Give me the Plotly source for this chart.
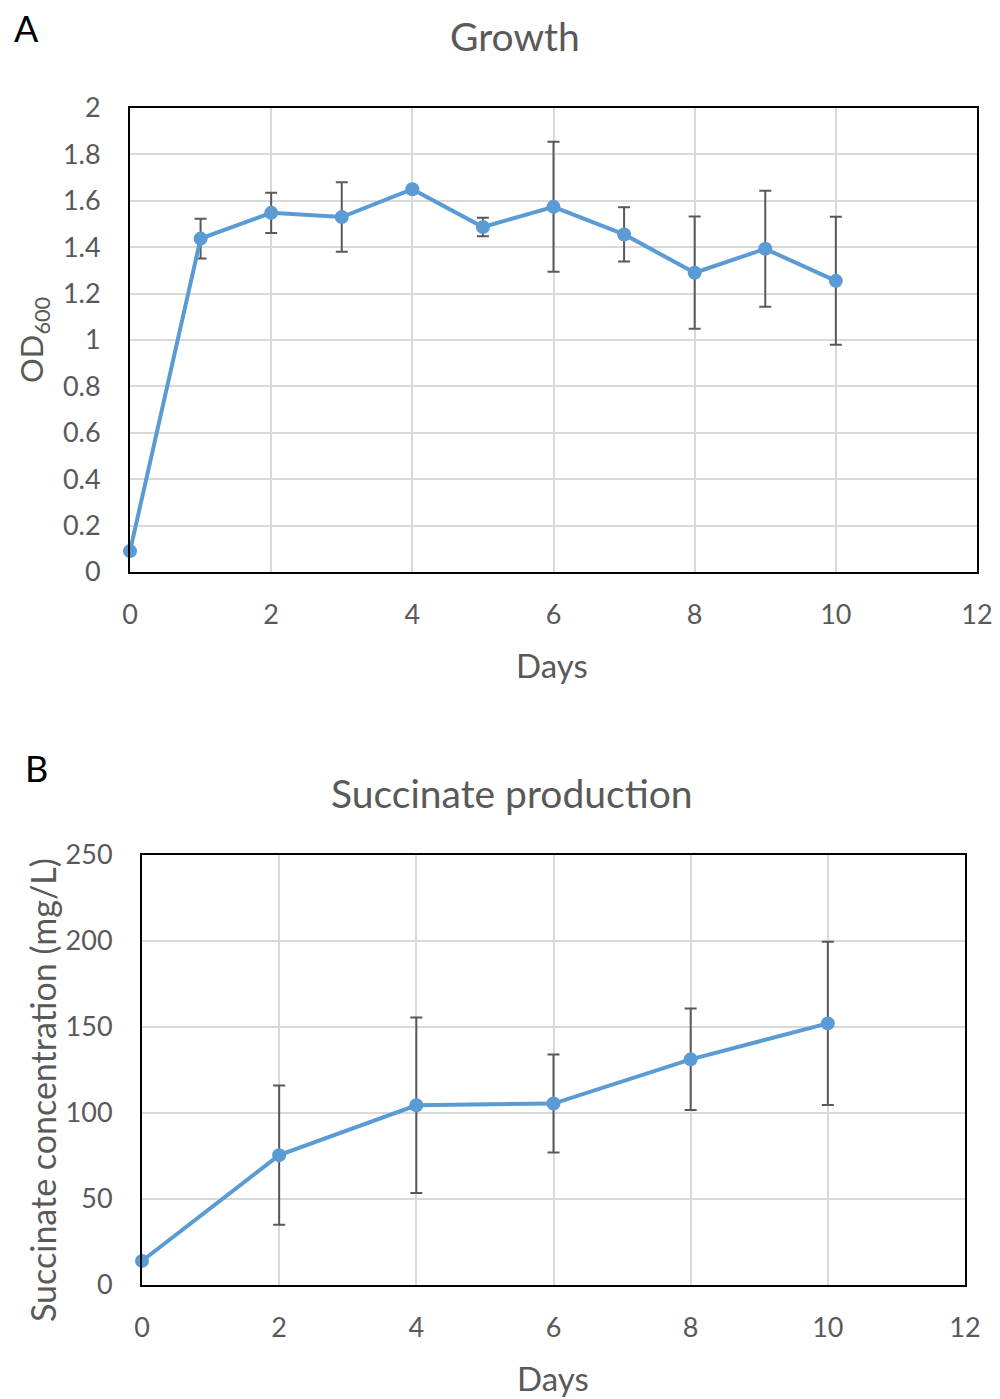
import plotly.graph_objects as go

# ---- Data: Growth (panel A) ----
growth_days = [0, 1, 2, 3, 4, 5, 6, 7, 8, 9, 10]
growth_od = [0.09, 1.437, 1.548, 1.530, 1.650, 1.487, 1.574, 1.455, 1.290, 1.393, 1.255]
growth_err = [0, 0.086, 0.087, 0.150, 0, 0.040, 0.280, 0.117, 0.242, 0.250, 0.276]

# ---- Data: Succinate production (panel B) ----
succ_days = [0, 2, 4, 6, 8, 10]
succ_conc = [14, 75.5, 104.5, 105.5, 131.2, 152.1]
succ_err = [0, 40.5, 51, 28.5, 29.5, 47.5]

x_ticks = [0, 2, 4, 6, 8, 10, 12]
od_ticks = [0, 0.2, 0.4, 0.6, 0.8, 1.0, 1.2, 1.4, 1.6, 1.8, 2.0]
od_ticktext = ["0", "0.2", "0.4", "0.6", "0.8", "1", "1.2", "1.4", "1.6", "1.8", "2"]
succ_ticks = [0, 50, 100, 150, 200, 250]

W, H = 1000, 1399
FONT = "Lato"
GRAY = "#595959"
BLUE = "#5b9bd5"

def py(pix):
    return 1 - pix / H

def px(pix):
    return pix / W

fig = go.Figure()

fig.add_trace(go.Scatter(
    x=growth_days, y=growth_od, mode="lines+markers",
    line=dict(color=BLUE, width=4), marker=dict(color=BLUE, size=14),
    error_y=dict(type="data", array=growth_err, visible=True, color=GRAY, thickness=2, width=6),
    cliponaxis=False, xaxis="x", yaxis="y", showlegend=False))

fig.add_trace(go.Scatter(
    x=succ_days, y=succ_conc, mode="lines+markers",
    line=dict(color=BLUE, width=4), marker=dict(color=BLUE, size=14),
    error_y=dict(type="data", array=succ_err, visible=True, color=GRAY, thickness=2, width=6),
    cliponaxis=False, xaxis="x2", yaxis="y2", showlegend=False))

axis_common = dict(showline=True, mirror=True, linecolor="black", linewidth=2,
                   showgrid=True, gridcolor="#d9d9d9", gridwidth=2, zeroline=False,
                   automargin=False, ticks="",
                   tickfont=dict(family=FONT, size=27, color=GRAY))

fig.update_layout(
    width=W, height=H, margin=dict(l=0, r=0, t=0, b=0, pad=0, autoexpand=False),
    paper_bgcolor="white", plot_bgcolor="white",
    xaxis=dict(domain=[px(130), px(977)], anchor="y", range=[0, 12], tickvals=x_ticks,
               ticklabelstandoff=18, **axis_common),
    yaxis=dict(domain=[py(572), py(108)], anchor="x", range=[0, 2], tickvals=od_ticks,
               ticktext=od_ticktext, ticklabelstandoff=22, **axis_common),
    xaxis2=dict(domain=[px(142), px(965)], anchor="y2", range=[0, 12], tickvals=x_ticks,
                ticklabelstandoff=18, **axis_common),
    yaxis2=dict(domain=[py(1285), py(855)], anchor="x2", range=[0, 250], tickvals=succ_ticks,
                ticklabelstandoff=22, **axis_common),
)

annots = [
    dict(text="A", x=px(26), y=py(28), font=dict(size=36, color="black")),
    dict(text="B", x=px(36), y=py(768), font=dict(size=36, color="black")),
    dict(text="Growth", x=px(515), y=py(36), font=dict(size=39, color=GRAY)),
    dict(text="Succinate production", x=px(512), y=py(793), font=dict(size=39, color=GRAY)),
    dict(text="Days", x=px(552), y=py(665), font=dict(size=33, color=GRAY)),
    dict(text="Days", x=px(553), y=py(1378), font=dict(size=33, color=GRAY)),
    dict(text="OD<sub>600</sub>", x=px(33), y=py(340), textangle=-90, font=dict(size=31, color=GRAY)),
    dict(text="Succinate concentration (mg/L)", x=px(42), y=py(1090), textangle=-90,
         font=dict(size=34, color=GRAY)),
]
for a in annots:
    a["font"]["family"] = FONT
    fig.add_annotation(xref="paper", yref="paper", showarrow=False,
                       xanchor="center", yanchor="middle", **a)

fig.write_html("out.html")
